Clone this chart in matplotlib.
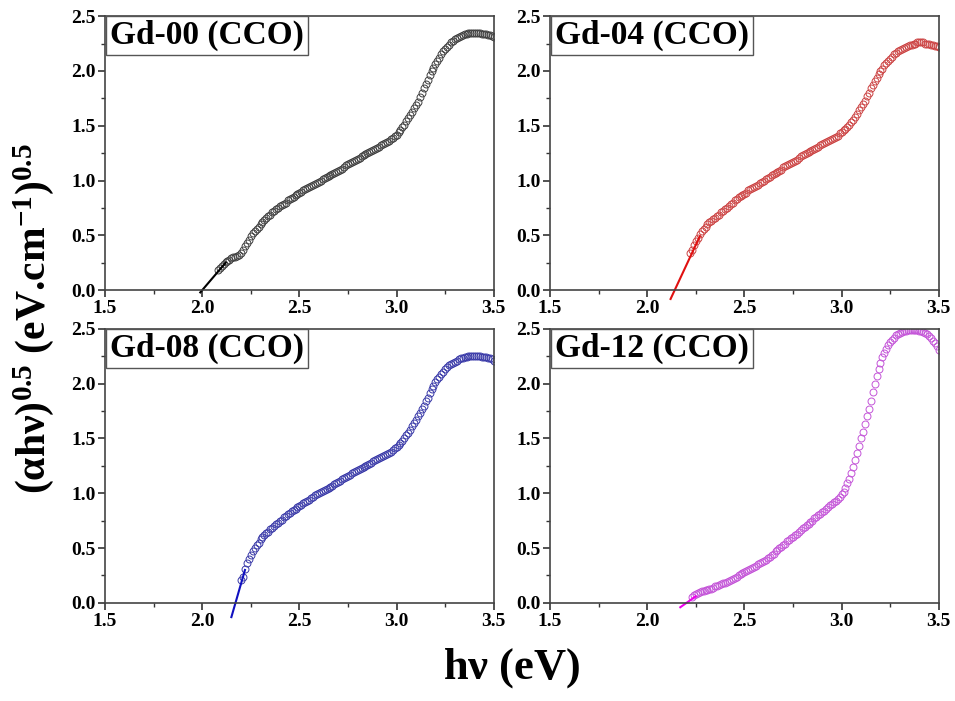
import matplotlib
matplotlib.use("Agg")
import matplotlib.pyplot as plt
import numpy as np

plt.rcParams['font.family'] = ['Liberation Serif', 'DejaVu Serif']
plt.rcParams['font.weight'] = 'bold'
plt.rcParams['mathtext.fontset'] = 'custom'
plt.rcParams['mathtext.rm'] = 'Liberation Serif:bold'
plt.rcParams['mathtext.bf'] = 'Liberation Serif:bold'
plt.rcParams['mathtext.it'] = 'Liberation Serif:bold'

samples = ['Gd-00 (CCO)', 'Gd-04 (CCO)', 'Gd-08 (CCO)', 'Gd-12 (CCO)']

# energy grid is 0.01 eV, first point of each sample
x_start = [2.08, 2.22, 2.20, 2.23]

y00 = [0.18, 0.20, 0.22, 0.24, 0.26, 0.27, 0.28, 0.29, 0.30, 0.30,
       0.31, 0.32, 0.34, 0.37, 0.40, 0.43, 0.46, 0.49, 0.52, 0.54,
       0.56, 0.58, 0.60, 0.62, 0.64, 0.66, 0.68, 0.69, 0.71, 0.72,
       0.74, 0.75, 0.77, 0.78, 0.79, 0.80, 0.82, 0.83, 0.84, 0.85,
       0.87, 0.88, 0.89, 0.90, 0.91, 0.92, 0.93, 0.94, 0.95, 0.96,
       0.97, 0.98, 0.99, 1.00, 1.01, 1.02, 1.03, 1.04, 1.05, 1.06,
       1.07, 1.08, 1.09, 1.10, 1.11, 1.12, 1.14, 1.15, 1.16, 1.17,
       1.18, 1.19, 1.20, 1.21, 1.22, 1.23, 1.24, 1.25, 1.26, 1.27,
       1.28, 1.29, 1.30, 1.31, 1.32, 1.33, 1.34, 1.35, 1.36, 1.38,
       1.39, 1.41, 1.42, 1.44, 1.46, 1.49, 1.51, 1.54, 1.57, 1.60,
       1.63, 1.66, 1.69, 1.72, 1.76, 1.80, 1.84, 1.88, 1.92, 1.96,
       2.00, 2.03, 2.06, 2.09, 2.12, 2.15, 2.18, 2.20, 2.22, 2.24,
       2.26, 2.27, 2.29, 2.30, 2.31, 2.32, 2.33, 2.34, 2.34, 2.35,
       2.35, 2.35, 2.35, 2.35, 2.35, 2.35, 2.34, 2.34, 2.34, 2.33,
       2.33, 2.32, 2.31]

y04 = [0.34, 0.37, 0.41, 0.45, 0.48, 0.51, 0.54, 0.56, 0.58, 0.60,
       0.62, 0.63, 0.65, 0.66, 0.68, 0.69, 0.71, 0.72, 0.74, 0.75,
       0.77, 0.79, 0.80, 0.82, 0.83, 0.85, 0.86, 0.87, 0.88, 0.89,
       0.91, 0.92, 0.93, 0.94, 0.95, 0.96, 0.98, 0.99, 1.00, 1.01,
       1.02, 1.03, 1.05, 1.06, 1.07, 1.08, 1.09, 1.10, 1.12, 1.13,
       1.14, 1.15, 1.16, 1.17, 1.18, 1.19, 1.21, 1.22, 1.23, 1.24,
       1.25, 1.26, 1.27, 1.28, 1.29, 1.30, 1.31, 1.32, 1.33, 1.34,
       1.35, 1.36, 1.37, 1.38, 1.39, 1.40, 1.41, 1.43, 1.44, 1.46,
       1.47, 1.49, 1.51, 1.53, 1.55, 1.58, 1.61, 1.64, 1.67, 1.70,
       1.73, 1.77, 1.80, 1.84, 1.87, 1.91, 1.94, 1.97, 2.00, 2.02,
       2.05, 2.07, 2.09, 2.11, 2.13, 2.15, 2.16, 2.18, 2.19, 2.20,
       2.21, 2.22, 2.23, 2.24, 2.24, 2.25, 2.25, 2.26, 2.26, 2.26,
       2.26, 2.25, 2.25, 2.25, 2.24, 2.24, 2.23, 2.23, 2.22]

y08 = [0.21, 0.24, 0.31, 0.36, 0.40, 0.44, 0.47, 0.50, 0.53, 0.55,
       0.58, 0.60, 0.62, 0.64, 0.65, 0.67, 0.68, 0.70, 0.72, 0.73,
       0.75, 0.76, 0.78, 0.79, 0.81, 0.82, 0.84, 0.85, 0.86, 0.87,
       0.88, 0.89, 0.91, 0.92, 0.93, 0.94, 0.96, 0.97, 0.98, 0.99,
       1.00, 1.01, 1.02, 1.03, 1.04, 1.05, 1.06, 1.07, 1.08, 1.09,
       1.10, 1.11, 1.13, 1.14, 1.15, 1.16, 1.17, 1.18, 1.19, 1.20,
       1.21, 1.22, 1.23, 1.24, 1.25, 1.26, 1.27, 1.28, 1.29, 1.30,
       1.31, 1.32, 1.33, 1.34, 1.35, 1.36, 1.37, 1.38, 1.39, 1.41,
       1.42, 1.44, 1.46, 1.48, 1.50, 1.53, 1.55, 1.58, 1.61, 1.64,
       1.67, 1.70, 1.73, 1.77, 1.80, 1.84, 1.87, 1.91, 1.95, 1.98,
       2.01, 2.04, 2.06, 2.09, 2.11, 2.13, 2.15, 2.17, 2.18, 2.19,
       2.20, 2.21, 2.22, 2.23, 2.23, 2.24, 2.24, 2.25, 2.25, 2.25,
       2.25, 2.25, 2.25, 2.25, 2.24, 2.24, 2.24, 2.23, 2.23, 2.22, 2.21]

y12 = [0.05, 0.07, 0.08, 0.09, 0.10, 0.11, 0.11, 0.12, 0.12, 0.13,
       0.13, 0.14, 0.15, 0.15, 0.16, 0.17, 0.18, 0.18, 0.19, 0.20,
       0.21, 0.22, 0.23, 0.24, 0.25, 0.26, 0.27, 0.28, 0.29, 0.30,
       0.31, 0.32, 0.33, 0.34, 0.35, 0.36, 0.37, 0.38, 0.39, 0.41,
       0.42, 0.44, 0.45, 0.47, 0.48, 0.50, 0.51, 0.53, 0.54, 0.56,
       0.57, 0.59, 0.60, 0.62, 0.63, 0.65, 0.66, 0.68, 0.69, 0.71,
       0.72, 0.74, 0.75, 0.77, 0.78, 0.80, 0.81, 0.83, 0.84, 0.86,
       0.87, 0.89, 0.90, 0.92, 0.93, 0.95, 0.97, 0.99, 1.01, 1.05,
       1.09, 1.13, 1.18, 1.24, 1.30, 1.37, 1.43, 1.50, 1.56, 1.63,
       1.70, 1.77, 1.84, 1.92, 2.00, 2.07, 2.13, 2.19, 2.24, 2.28,
       2.32, 2.35, 2.38, 2.40, 2.42, 2.44, 2.45, 2.46, 2.47, 2.48,
       2.48, 2.49, 2.49, 2.49, 2.49, 2.49, 2.49, 2.48, 2.48, 2.47,
       2.46, 2.45, 2.43, 2.42, 2.39, 2.37, 2.34, 2.31]

# linear fits (Tauc extrapolation), end points
fit_x = [[1.99, 2.12], [2.12, 2.27], [2.15, 2.22], [2.17, 2.25]]
fit_y = [[-0.02, 0.25], [-0.08, 0.49], [-0.13, 0.30], [-0.04, 0.06]]

ys = [y00, y04, y08, y12]
marker_colors = ['#404040', '#cc4444', '#3a3aa8', '#c455d8']
line_colors = ['#000000', '#e01010', '#1010c0', '#ee00ee']

fig = plt.figure(figsize=(9.55, 7.01), dpi=100)
lefts = [0.110, 0.576, 0.110, 0.576]
bottoms = [0.586, 0.586, 0.140, 0.140]

for i in range(4):
    ax = fig.add_axes([lefts[i], bottoms[i], 0.407, 0.391])
    x = np.round(x_start[i] + 0.01 * np.arange(len(ys[i])), 2)
    ax.plot(x, ys[i], linestyle='none', marker='o', markersize=5,
            markerfacecolor='none', markeredgecolor=marker_colors[i], markeredgewidth=0.7)
    ax.plot(fit_x[i], fit_y[i], color=line_colors[i], linewidth=1.5, clip_on=False)
    ax.set_xlim(1.5, 3.5)
    ax.set_ylim(0, 2.5)
    ax.set_xticks([1.5, 2.0, 2.5, 3.0, 3.5])
    ax.set_yticks([0.0, 0.5, 1.0, 1.5, 2.0, 2.5])
    ax.set_xticks([1.75, 2.25, 2.75, 3.25], minor=True)
    ax.set_yticks([0.25, 0.75, 1.25, 1.75, 2.25], minor=True)
    ax.set_xticklabels(['1.5', '2.0', '2.5', '3.0', '3.5'])
    ax.set_yticklabels(['0.0', '0.5', '1.0', '1.5', '2.0', '2.5'])
    ax.tick_params(which='major', direction='out', length=5, width=1.2, labelsize=14,
                   colors='#333333', labelcolor='black', pad=2)
    ax.tick_params(which='minor', direction='out', length=3, width=1.0, colors='#333333')
    for lbl in ax.get_xticklabels() + ax.get_yticklabels():
        lbl.set_fontweight('bold')
    for sp in ax.spines.values():
        sp.set_linewidth(1.2)
        sp.set_color('#444444')
    ax.text(0.012, 0.985, samples[i], transform=ax.transAxes, fontsize=24, fontweight='bold',
            va='top', ha='left',
            bbox=dict(boxstyle='square,pad=0.12', facecolor='white', edgecolor='#555555', linewidth=1.0))

fig.text(0.536, 0.015, r'h$\nu$ (eV)', fontsize=32, fontweight='bold', ha='center', va='bottom')
fig.text(0.035, 0.545, r'($\alpha$h$\nu$)$^{0.5}$ (eV.cm$^{-1}$)$^{0.5}$', fontsize=30,
         fontweight='bold', rotation=90, ha='center', va='center')

plt.savefig('out.png', dpi=100)
